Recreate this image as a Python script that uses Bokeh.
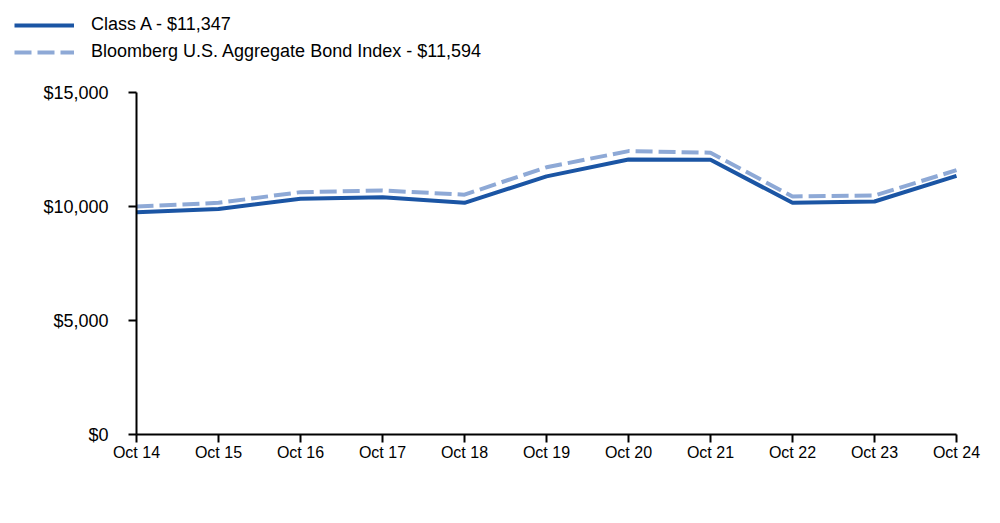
from bokeh.plotting import figure
from bokeh.models import Legend, LegendItem, FixedTicker, NumeralTickFormatter, Range1d
from bokeh.embed import file_html
from bokeh.resources import INLINE

periods = ["Oct 14", "Oct 15", "Oct 16", "Oct 17", "Oct 18", "Oct 19",
           "Oct 20", "Oct 21", "Oct 22", "Oct 23", "Oct 24"]
class_a = [9750, 9890, 10340, 10410, 10160, 11320, 12060, 12050, 10160, 10220, 11347]
bond_index = [10000, 10160, 10630, 10700, 10520, 11720, 12430, 12360, 10440, 10480, 11594]
y_ticks = [0, 5000, 10000, 15000]

label_a = "Class A - $11,347"
label_b = "Bloomberg U.S. Aggregate Bond Index - $11,594"

x = list(range(len(periods)))
font = "Liberation Sans"

# layout geometry (pixels)
W, H = 984, 507
axis_right_px = 956  # where the last x tick sits
frame_bottom = 490
axis_x_px = 136      # where the y axis sits
axis_top_px = 92     # where the top y tick sits
axis_bottom_px = 434 # where the x axis sits
n = len(periods) - 1
y_max = y_ticks[-1]

px_per_x = (axis_right_px - axis_x_px) / n
x_start = -axis_x_px / px_per_x
x_end = n + (W - axis_right_px) / px_per_x
px_per_y = (axis_bottom_px - axis_top_px) / y_max
y_start = -(frame_bottom - axis_bottom_px) / px_per_y
y_end = axis_bottom_px / px_per_y

p = figure(width=W, height=H, output_backend="svg", toolbar_location=None,
           min_border_left=0, min_border_right=0,
           min_border_top=0, min_border_bottom=H - frame_bottom)
p.x_range = Range1d(x_start, x_end)
p.y_range = Range1d(y_start, y_end)
p.outline_line_color = None
p.xgrid.visible = False
p.ygrid.visible = False
p.background_fill_color = "white"
p.border_fill_color = "white"

r_b = p.line(x, bond_index, line_color="#8EA9D6", line_width=4, line_dash="17 6")
r_a = p.line(x, class_a, line_color="#1B55A4", line_width=4)

xa = p.xaxis[0]
xa.fixed_location = 0
xa.ticker = FixedTicker(ticks=x)
xa.bounds = (0, n)
xa.major_label_overrides = {i: s for i, s in enumerate(periods)}
xa.major_label_text_font = font
xa.major_label_text_font_size = "16px"
xa.major_label_text_color = "black"
xa.axis_line_color = "black"
xa.axis_line_width = 2
xa.major_tick_line_color = "black"
xa.major_tick_line_width = 2
xa.major_tick_in = 0
xa.major_tick_out = 8
xa.minor_tick_line_color = None
xa.major_label_standoff = 1

ya = p.yaxis[0]
ya.fixed_location = 0
ya.bounds = (0, y_max)
ya.ticker = FixedTicker(ticks=y_ticks)
ya.formatter = NumeralTickFormatter(format="$0,0")
ya.major_label_text_font = font
ya.major_label_text_font_size = "18px"
ya.major_label_text_color = "black"
ya.axis_line_color = "black"
ya.axis_line_width = 2
ya.major_tick_line_color = "black"
ya.major_tick_line_width = 2
ya.major_tick_in = 0
ya.major_tick_out = 8
ya.minor_tick_line_color = None
ya.major_label_standoff = 20

legend = Legend(items=[LegendItem(label=label_a, renderers=[r_a]),
                       LegendItem(label=label_b, renderers=[r_b])],
                location=(14, frame_bottom - 62), orientation="vertical",
                glyph_width=60, glyph_height=20, label_height=20,
                label_standoff=17, spacing=6, padding=0, margin=0,
                label_text_font=font, label_text_font_size="18px",
                label_text_color="black",
                background_fill_alpha=0, border_line_color=None)
p.add_layout(legend, "center")

open("out.html", "w").write(file_html(p, INLINE))
